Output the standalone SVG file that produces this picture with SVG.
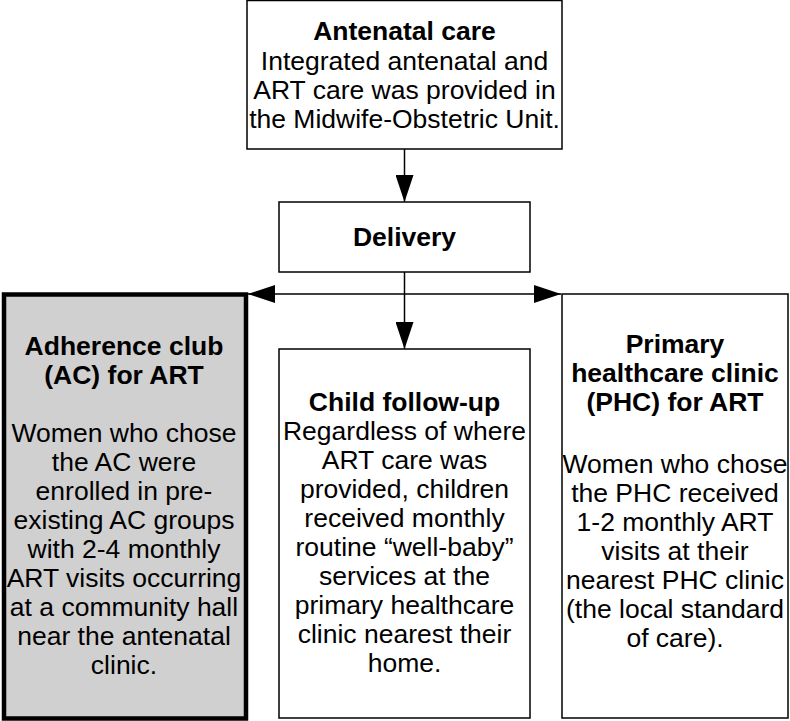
<svg xmlns="http://www.w3.org/2000/svg" width="790" height="721" viewBox="0 0 790 721">
  <defs>
    <style>
      .box { fill: #ffffff; stroke: #000000; stroke-width: 1.5; }
      .ac { fill: #d0d0d0; stroke: #000000; stroke-width: 4.5; }
      .t { font-family: "Liberation Sans", Arial, sans-serif; font-size: 26.5px; fill: #000000; text-anchor: middle; }
      .b { font-weight: bold; }
      .conn { stroke: #000000; stroke-width: 1.5; fill: none; marker-end: url(#arrow); }
    </style>
    <marker id="arrow" markerUnits="userSpaceOnUse" markerWidth="27" markerHeight="18" refX="27" refY="9" orient="auto">
      <path d="M0,0 L27,9 L0,18 Z" fill="#000000"/>
    </marker>
  </defs>
  <rect width="790" height="721" fill="#ffffff"/>

  <g id="connectors">
    <path class="conn" d="M404.5,149 L404.5,202"/>
    <path class="conn" d="M404.5,272 L404.5,349"/>
    <path class="conn" d="M404.5,294 L248,294"/>
    <path class="conn" d="M404.5,294 L561,294"/>
  </g>

  <g id="antenatal">
    <rect class="box" x="247" y="0.5" width="315" height="148.5"/>
    <text class="t b" x="404.5" y="40">Antenatal care</text>
    <text class="t" x="404.5" y="70">Integrated antenatal and</text>
    <text class="t" x="404.5" y="99">ART care was provided in</text>
    <text class="t" x="404.5" y="128">the Midwife-Obstetric Unit.</text>
  </g>

  <g id="delivery">
    <rect class="box" x="279" y="202" width="251" height="70"/>
    <text class="t b" x="404.5" y="246">Delivery</text>
  </g>

  <g id="adherence-club">
    <rect class="ac" x="4" y="294.5" width="242" height="424"/>
    <text class="t b" x="124" y="355">Adherence club</text>
    <text class="t b" x="124" y="384">(AC) for ART</text>
    <text class="t" x="124" y="442">Women who chose</text>
    <text class="t" x="124" y="471">the AC were</text>
    <text class="t" x="124" y="500">enrolled in pre-</text>
    <text class="t" x="124" y="529">existing AC groups</text>
    <text class="t" x="124" y="558">with 2-4 monthly</text>
    <text class="t" x="124" y="587">ART visits occurring</text>
    <text class="t" x="124" y="616">at a community hall</text>
    <text class="t" x="124" y="645">near the antenatal</text>
    <text class="t" x="124" y="674">clinic.</text>
  </g>

  <g id="child-follow-up">
    <rect class="box" x="279" y="349" width="251" height="369"/>
    <text class="t b" x="404.5" y="411">Child follow-up</text>
    <text class="t" x="404.5" y="440">Regardless of where</text>
    <text class="t" x="404.5" y="469">ART care was</text>
    <text class="t" x="404.5" y="498">provided, children</text>
    <text class="t" x="404.5" y="527">received monthly</text>
    <text class="t" x="404.5" y="556">routine “well-baby”</text>
    <text class="t" x="404.5" y="585">services at the</text>
    <text class="t" x="404.5" y="614">primary healthcare</text>
    <text class="t" x="404.5" y="643">clinic nearest their</text>
    <text class="t" x="404.5" y="672">home.</text>
  </g>

  <g id="phc">
    <rect class="box" x="562" y="294" width="226" height="424"/>
    <text class="t b" x="675" y="353">Primary</text>
    <text class="t b" x="675" y="382">healthcare clinic</text>
    <text class="t b" x="675" y="411">(PHC) for ART</text>
    <text class="t" x="675" y="473">Women who chose</text>
    <text class="t" x="675" y="502">the PHC received</text>
    <text class="t" x="675" y="531">1-2 monthly ART</text>
    <text class="t" x="675" y="560">visits at their</text>
    <text class="t" x="675" y="589">nearest PHC clinic</text>
    <text class="t" x="675" y="618">(the local standard</text>
    <text class="t" x="675" y="647">of care).</text>
  </g>
</svg>
